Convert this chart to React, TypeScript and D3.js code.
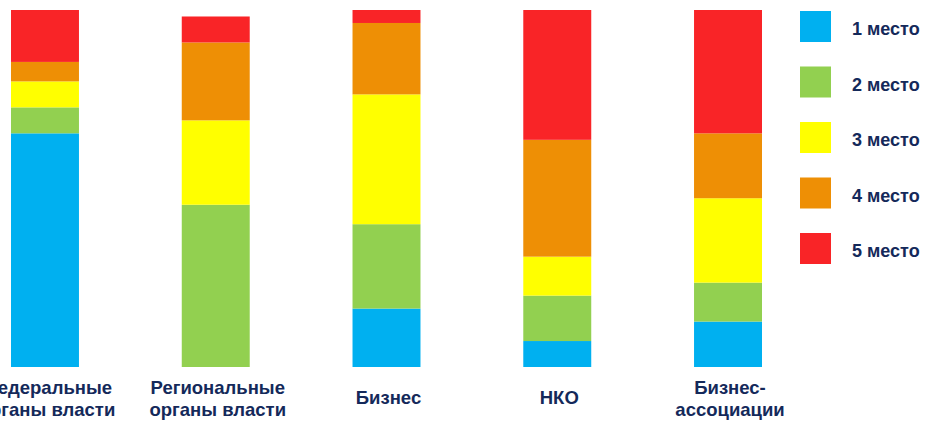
import React from 'react';
import * as d3 from 'd3';

// respondents per place (stack order: 1st place at bottom)
const categories = ['Федеральные органы власти', 'Региональные органы власти', 'Бизнес', 'НКО', 'Бизнес-ассоциации'];
const labelLines = [
  ['Федеральные', 'органы власти'],
  ['Региональные', 'органы власти'],
  ['Бизнес'],
  ['НКО'],
  ['Бизнес-', 'ассоциации'],
];
const places = ['1 место', '2 место', '3 место', '4 место', '5 место'];
const place1 = [36, 0, 9, 4, 7];
const place2 = [4, 25, 13, 7, 6];
const place3 = [4, 13, 20, 6, 13];
const place4 = [3, 12, 11, 18, 10];
const place5 = [8, 4, 2, 20, 19];
const colors = ['#00B0F0', '#92D050', '#FFFF00', '#EE8F05', '#F92427'];

const width = 926;
const height = 421;

const App: React.FC = () => {
  const series = [place1, place2, place3, place4, place5];
  const table = categories.map((c, i) => {
    const row: any = { category: c };
    places.forEach((p, j) => (row[p] = series[j][i]));
    return row;
  });
  const stacked = d3.stack<any>().keys(places)(table);

  const x = d3.scaleBand<string>().domain(categories).range([11, 762]).paddingInner(0.602).paddingOuter(0);
  const y = d3.scaleLinear().domain([0, 55]).range([367, 10]);
  const legendY = d3.scalePoint<string>().domain(places).range([26, 248]);
  const color = d3.scaleOrdinal<string, string>().domain(places).range(colors);

  const textColor = '#14295A';
  const font = 'Liberation Sans, Arial, sans-serif';

  return (
    <svg
      width={width}
      height={height}
      style={{ position: 'absolute', left: 0, top: 0, background: '#fff' }}
    >
      {stacked.map((s) => (
        <g key={s.key} fill={color(s.key)}>
          {s.map((d, i) => (
            <rect
              key={i}
              x={x(d.data.category)}
              y={y(d[1])}
              width={x.bandwidth()}
              height={y(d[0]) - y(d[1])}
            />
          ))}
        </g>
      ))}

      {categories.map((c, i) => {
        const lines = labelLines[i];
        const cx = (x(c) ?? 0) + x.bandwidth() / 2 + 2;
        const y0 = lines.length === 1 ? 398 : 388;
        return (
          <text
            key={c}
            x={cx}
            textAnchor="middle"
            fontFamily={font}
            fontWeight="bold"
            fontSize={18.5}
            fill={textColor}
          >
            {lines.map((l, k) => (
              <tspan key={k} x={cx} y={y0 + k * 22} dy="0.35em">
                {l}
              </tspan>
            ))}
          </text>
        );
      })}

      {places.map((p) => {
        const cy = legendY(p) ?? 0;
        return (
          <g key={p}>
            <rect x={800} y={cy - 15} width={31} height={31} fill={color(p)} />
            <text
              x={852}
              y={cy + 3}
              dy="0.35em"
              fontFamily={font}
              fontWeight="bold"
              fontSize={18}
              fill={textColor}
            >
              {p}
            </text>
          </g>
        );
      })}
    </svg>
  );
};

export default App;
